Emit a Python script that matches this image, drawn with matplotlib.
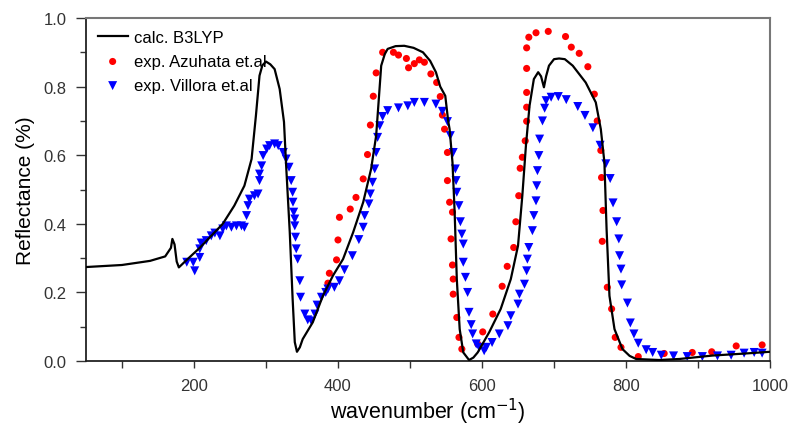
import matplotlib
matplotlib.use('Agg')
import matplotlib.pyplot as plt
from matplotlib.ticker import MultipleLocator

plt.rcParams['font.family'] = ['Liberation Sans', 'DejaVu Sans']

# calc. B3LYP curve
calc_x = [50, 100, 139, 160, 168, 170, 173, 176, 179, 190, 208, 240, 256, 270, 280, 286,
          291, 295, 300, 306, 312, 319, 325, 328, 333, 337, 340, 343, 347, 351, 365, 379,
          393, 407, 421, 435, 446, 453, 457, 460, 465, 469, 480, 492, 505, 518, 528, 536,
          542, 549, 553, 555, 559, 562, 565, 569, 574, 582, 588, 594, 610, 626, 640, 650,
          656, 661, 666, 672, 678, 682, 686, 689, 693, 700, 707, 715, 726, 744, 758, 765,
          770, 773, 777, 784, 795, 805, 814, 846, 874, 920, 966, 1000]
calc_y = [0.274, 0.280, 0.292, 0.305, 0.330, 0.356, 0.340, 0.290, 0.273, 0.295, 0.330, 0.400,
          0.453, 0.511, 0.589, 0.715, 0.832, 0.862, 0.873, 0.865, 0.851, 0.793, 0.697, 0.569,
          0.376, 0.181, 0.055, 0.027, 0.040, 0.064, 0.113, 0.190, 0.249, 0.297, 0.375, 0.463,
          0.560, 0.657, 0.773, 0.861, 0.895, 0.910, 0.918, 0.919, 0.913, 0.900, 0.875, 0.842,
          0.800, 0.773, 0.700, 0.676, 0.579, 0.434, 0.239, 0.093, 0.025, 0.003, 0.010, 0.025,
          0.084, 0.152, 0.239, 0.336, 0.482, 0.628, 0.744, 0.822, 0.842, 0.830, 0.798, 0.830,
          0.861, 0.880, 0.882, 0.880, 0.861, 0.812, 0.754, 0.676, 0.579, 0.385, 0.190, 0.093,
          0.035, 0.015, 0.006, 0.003, 0.006, 0.016, 0.022, 0.027]

# exp. Azuhata et.al
azu_x = [386, 388, 398, 400, 402, 417, 425, 435, 441, 445, 449, 453, 462, 477, 484, 495,
         498, 506, 513, 520, 529, 537, 542, 545, 548, 552, 552, 555, 559, 557, 559, 560,
         560, 565, 568, 572, 594, 601, 615, 628, 635, 644, 647, 651, 653, 656, 660, 662,
         662, 662, 662, 662, 665, 675, 692, 716, 724, 735, 747, 756, 760, 765, 766, 768,
         767, 774, 780, 785, 793, 817, 853, 892, 919, 953, 989]
azu_y = [0.227, 0.256, 0.295, 0.353, 0.419, 0.443, 0.477, 0.531, 0.602, 0.688, 0.772, 0.840,
         0.900, 0.900, 0.892, 0.882, 0.855, 0.867, 0.878, 0.871, 0.837, 0.812, 0.771, 0.717,
         0.676, 0.608, 0.526, 0.463, 0.434, 0.356, 0.280, 0.239, 0.195, 0.127, 0.069, 0.035,
         0.050, 0.085, 0.137, 0.218, 0.276, 0.331, 0.406, 0.482, 0.562, 0.594, 0.642, 0.699,
         0.740, 0.783, 0.853, 0.913, 0.944, 0.957, 0.961, 0.946, 0.915, 0.897, 0.858, 0.778,
         0.700, 0.614, 0.535, 0.439, 0.349, 0.215, 0.152, 0.069, 0.040, 0.013, 0.022, 0.025,
         0.027, 0.044, 0.047]

# exp. Villora et.al
vil_x = [190, 199, 201, 208, 208, 210, 217, 224, 229, 236, 240, 245, 252, 259, 266, 270,
         273, 275, 277, 284, 289, 291, 291, 294, 296, 301, 305, 312, 317, 324, 328, 332,
         335, 337, 337.5, 338.5, 340, 340, 341, 342, 344, 347, 348, 354, 358, 363, 368, 371,
         377, 383, 386, 395, 402, 409, 420, 429, 435, 437, 443, 445, 448, 451, 453, 455,
         458, 462, 469, 484, 497, 506, 520, 536, 545, 552, 556, 560, 563, 564, 565, 568,
         570, 572, 574, 574, 577, 580, 582, 585, 587, 592, 596, 603, 606, 614, 624, 636,
         640, 650, 652, 659, 662, 663, 665, 670, 672, 675, 676, 677, 679, 680, 684, 687,
         689, 696, 706, 717, 733, 743, 754, 764, 772, 778, 782, 787, 790, 791, 793, 794,
         802, 806, 811, 817, 828, 837, 849, 866, 885, 906, 927, 946, 964, 978, 989]
vil_y = [0.288, 0.288, 0.263, 0.302, 0.327, 0.344, 0.351, 0.365, 0.373, 0.365, 0.385, 0.394,
         0.390, 0.394, 0.394, 0.390, 0.424, 0.453, 0.472, 0.482, 0.487, 0.526, 0.545, 0.569,
         0.599, 0.618, 0.628, 0.633, 0.628, 0.608, 0.589, 0.565, 0.526, 0.492, 0.463, 0.434,
         0.414, 0.394, 0.361, 0.327, 0.297, 0.234, 0.186, 0.137, 0.120, 0.117, 0.137, 0.163,
         0.186, 0.200, 0.210, 0.215, 0.234, 0.266, 0.307, 0.354, 0.390, 0.424, 0.458, 0.487,
         0.521, 0.560, 0.608, 0.652, 0.686, 0.713, 0.730, 0.738, 0.744, 0.754, 0.754, 0.749,
         0.728, 0.698, 0.657, 0.608, 0.560, 0.526, 0.492, 0.453, 0.406, 0.370, 0.341, 0.288,
         0.244, 0.200, 0.142, 0.106, 0.079, 0.050, 0.040, 0.030, 0.040, 0.054, 0.079, 0.103,
         0.132, 0.166, 0.195, 0.224, 0.263, 0.297, 0.331, 0.380, 0.424, 0.467, 0.511, 0.555,
         0.599, 0.647, 0.700, 0.737, 0.759, 0.769, 0.771, 0.762, 0.742, 0.716, 0.680, 0.629,
         0.575, 0.532, 0.461, 0.406, 0.356, 0.307, 0.268, 0.222, 0.169, 0.111, 0.079, 0.052,
         0.033, 0.025, 0.017, 0.015, 0.013, 0.013, 0.015, 0.017, 0.023, 0.025, 0.023]

fig = plt.figure(figsize=(7.88, 4.31), dpi=100)
ax = fig.add_axes([0.1091, 0.16, 0.8681, 0.7959])

#Draw data
ax.plot(calc_x, calc_y, color='black', lw=1.6, label='calc. B3LYP', zorder=3)
ax.scatter(azu_x, azu_y, s=26, color='#ff0000', marker='o', edgecolors='none',
           label='exp. Azuhata et.al', zorder=2)
ax.scatter(vil_x, vil_y, s=42, color='#0000ff', marker='v', edgecolors='none',
           label='exp. Villora et.al', zorder=2)

#Axes range and ticks
ax.set_xlim(50, 1000)
ax.set_ylim(0, 1.0)
ax.xaxis.set_major_locator(MultipleLocator(200))
ax.xaxis.set_minor_locator(MultipleLocator(100))
ax.yaxis.set_major_locator(MultipleLocator(0.2))
ax.yaxis.set_minor_locator(MultipleLocator(0.1))
ax.yaxis.set_major_formatter(plt.FuncFormatter(lambda v, p: '%.1f' % v))
ax.tick_params(axis='both', which='major', direction='out', labelsize=12, color='#333333',
               labelcolor='#333333', width=1)
ax.tick_params(axis='x', which='major', length=5, pad=7)
ax.tick_params(axis='x', which='minor', length=5, width=1, color='#333333')
ax.tick_params(axis='y', which='major', length=7, pad=7)
ax.tick_params(axis='y', which='minor', length=4, width=1, color='#333333')
ax.tick_params(top=False, right=False, which='both')

for side in ['left', 'bottom']:
    ax.spines[side].set_color('#222222')
    ax.spines[side].set_linewidth(1.3)
for side in ['top', 'right']:
    ax.spines[side].set_color('#777777')
    ax.spines[side].set_linewidth(1.5)

ax.set_xlabel('wavenumber (cm$^{-1}$)', fontsize=15.5, labelpad=2)
ax.set_ylabel('Reflectance (%)', fontsize=15, labelpad=6)

#Legend
ax.legend(loc='upper left', frameon=False, fontsize=12, handlelength=1.8,
          handletextpad=0.4, labelspacing=0.55, borderaxespad=0.3,
          markerscale=1.0, scatterpoints=1)

plt.savefig('out.png', dpi=100)
plt.close()
